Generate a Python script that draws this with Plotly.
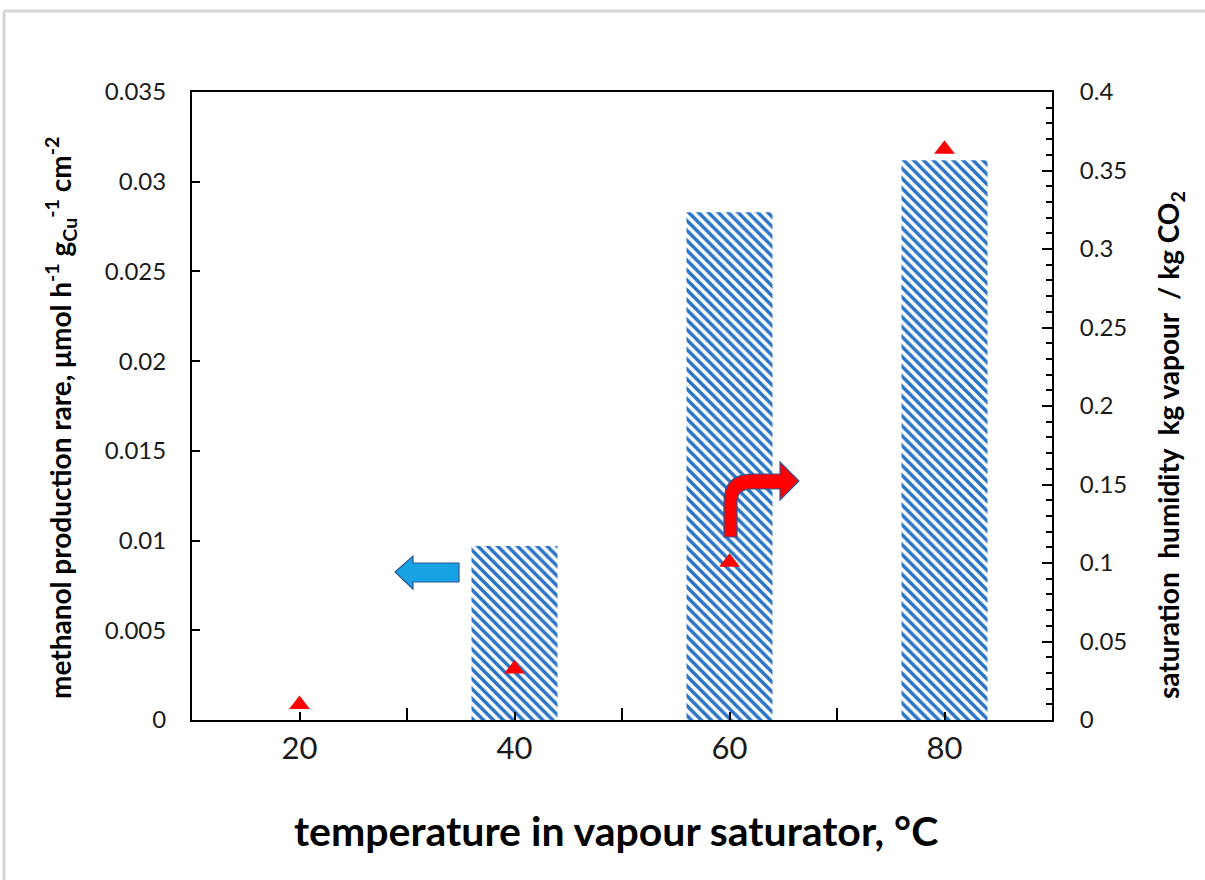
import plotly.graph_objects as go

# ---- data ----
temperature = [20, 40, 60, 80]
methanol_rate = [0.0, 0.0097, 0.0283, 0.0312]          # left axis, bars
sat_humidity = [0.0098, 0.0325, 0.1005, 0.3635]        # right axis, triangles
left_ticks = [0, 0.005, 0.01, 0.015, 0.02, 0.025, 0.03, 0.035]
left_ticktext = ["0", "0.005", "0.01", "0.015", "0.02", "0.025", "0.03", "0.035"]
right_ticks = [0, 0.05, 0.1, 0.15, 0.2, 0.25, 0.3, 0.35, 0.4]
right_ticktext = ["0", "0.05", "0.1", "0.15", "0.2", "0.25", "0.3", "0.35", "0.4"]

x_title = "temperature in vapour saturator, °C"
left_title = "methanol production rare, μmol h<sup>-1</sup> g<sub>Cu</sub><sup>-1</sup> cm<sup>-2</sup>"
right_title = "saturation&nbsp; humidity&nbsp; kg vapour&nbsp; / kg CO<sub>2</sub>"

W, H = 1205, 880
L, R, T, B = 192, 153, 92, 160
PW, PH = W - L - R, H - T - B

FONT = "Lato"


def px_x(x):
    return (x - L) / PW


def px_y(y):
    return (H - B - y) / PH


def px_path(points, closed=True):
    """Convert pixel points (with optional Q control) into a paper-coord path."""
    parts = []
    for p in points:
        cmd = p[0]
        nums = p[1:]
        coords = []
        for i in range(0, len(nums), 2):
            coords.append(f"{px_x(nums[i]):.5f},{px_y(nums[i+1]):.5f}")
        parts.append(cmd + " " + " ".join(coords))
    return " ".join(parts) + (" Z" if closed else "")


fig = go.Figure()

fig.add_trace(go.Bar(
    x=temperature, y=methanol_rate, width=8,
    marker=dict(color="white", line=dict(width=0),
                pattern=dict(shape="\\", fgcolor="#2a74c6", bgcolor="white",
                             fgopacity=1, fillmode="replace",
                             size=7, solidity=0.5)),
    yaxis="y", showlegend=False,
))

fig.add_trace(go.Scatter(
    x=temperature, y=sat_humidity, mode="markers",
    marker=dict(symbol="triangle-up", size=18, color="#ff0000"),
    yaxis="y2", showlegend=False,
))

tick_font = dict(family=FONT, size=24, color="#1a1a1a")

fig.update_layout(
    width=W, height=H,
    margin=dict(l=L, r=R, t=T, b=B),
    paper_bgcolor="white", plot_bgcolor="white",
    xaxis=dict(
        range=[10, 90], tickvals=temperature, ticktext=[str(t) for t in temperature],
        ticks="inside", ticklen=8, tickwidth=2, tickcolor="black",
        minor=dict(tickvals=[30, 50, 70], ticks="inside", ticklen=12, tickwidth=2, tickcolor="black"),
        showline=True, linecolor="black", linewidth=2, mirror=True,
        showgrid=False, zeroline=False,
        tickfont=dict(family=FONT, size=31, color="#1a1a1a"),
        ticklabelstandoff=0,
    ),
    yaxis=dict(
        range=[0, 0.035], tickvals=left_ticks, ticktext=left_ticktext,
        ticks="inside", ticklen=8, tickwidth=2, tickcolor="black",
        showline=True, linecolor="black", linewidth=2,
        showgrid=False, zeroline=False,
        tickfont=tick_font, ticklabelstandoff=19,
    ),
    yaxis2=dict(
        range=[0, 0.4], tickvals=right_ticks, ticktext=right_ticktext,
        overlaying="y", side="right",
        ticks="inside", ticklen=10, tickwidth=2, tickcolor="black",
        minor=dict(dtick=0.01, ticks="inside", ticklen=6, tickwidth=2, tickcolor="black"),
        showline=True, linecolor="black", linewidth=2,
        showgrid=False, zeroline=False,
        tickfont=tick_font, ticklabelstandoff=21,
    ),
    annotations=[
        dict(text=x_title, xref="paper", yref="paper", x=px_x(616), y=px_y(830),
             xanchor="center", yanchor="middle", showarrow=False,
             font=dict(family=FONT, size=41, color="black", weight="bold")),
        dict(text=left_title, xref="paper", yref="paper", x=px_x(60), y=px_y(418),
             xanchor="center", yanchor="middle", showarrow=False, textangle=-90,
             font=dict(family=FONT, size=28, color="black", weight="bold")),
        dict(text=right_title, xref="paper", yref="paper", x=px_x(1170), y=px_y(445),
             xanchor="center", yanchor="middle", showarrow=False, textangle=-90,
             font=dict(family=FONT, size=28, color="black", weight="bold")),
    ],
    shapes=[
        # outer frame (top & left edges)
        dict(type="line", xref="paper", yref="paper",
             x0=px_x(4), x1=px_x(W), y0=px_y(11), y1=px_y(11),
             line=dict(color="#d6d6d6", width=3)),
        dict(type="line", xref="paper", yref="paper",
             x0=px_x(4), x1=px_x(4), y0=px_y(11), y1=px_y(H),
             line=dict(color="#d6d6d6", width=3)),
        # blue left arrow
        dict(type="path", xref="paper", yref="paper",
             path=px_path([("M", 395, 572), ("L", 413, 556), ("L", 413, 563), ("L", 459, 563),
                           ("L", 459, 582), ("L", 413, 582), ("L", 413, 589)]),
             fillcolor="#16a2e3", line=dict(color="#2f5597", width=1.2)),
        # red curved arrow
        dict(type="path", xref="paper", yref="paper",
             path=px_path([("M", 724, 537), ("L", 724, 502), ("Q", 724, 474, 752, 474),
                           ("L", 780, 474), ("L", 780, 462), ("L", 799, 481), ("L", 780, 500),
                           ("L", 780, 489), ("L", 752, 489), ("Q", 737, 489, 737, 502),
                           ("L", 737, 537)]),
             fillcolor="#ff0000", line=dict(color="#2f5597", width=1.2)),
    ],
)

fig.write_html("out.html")
